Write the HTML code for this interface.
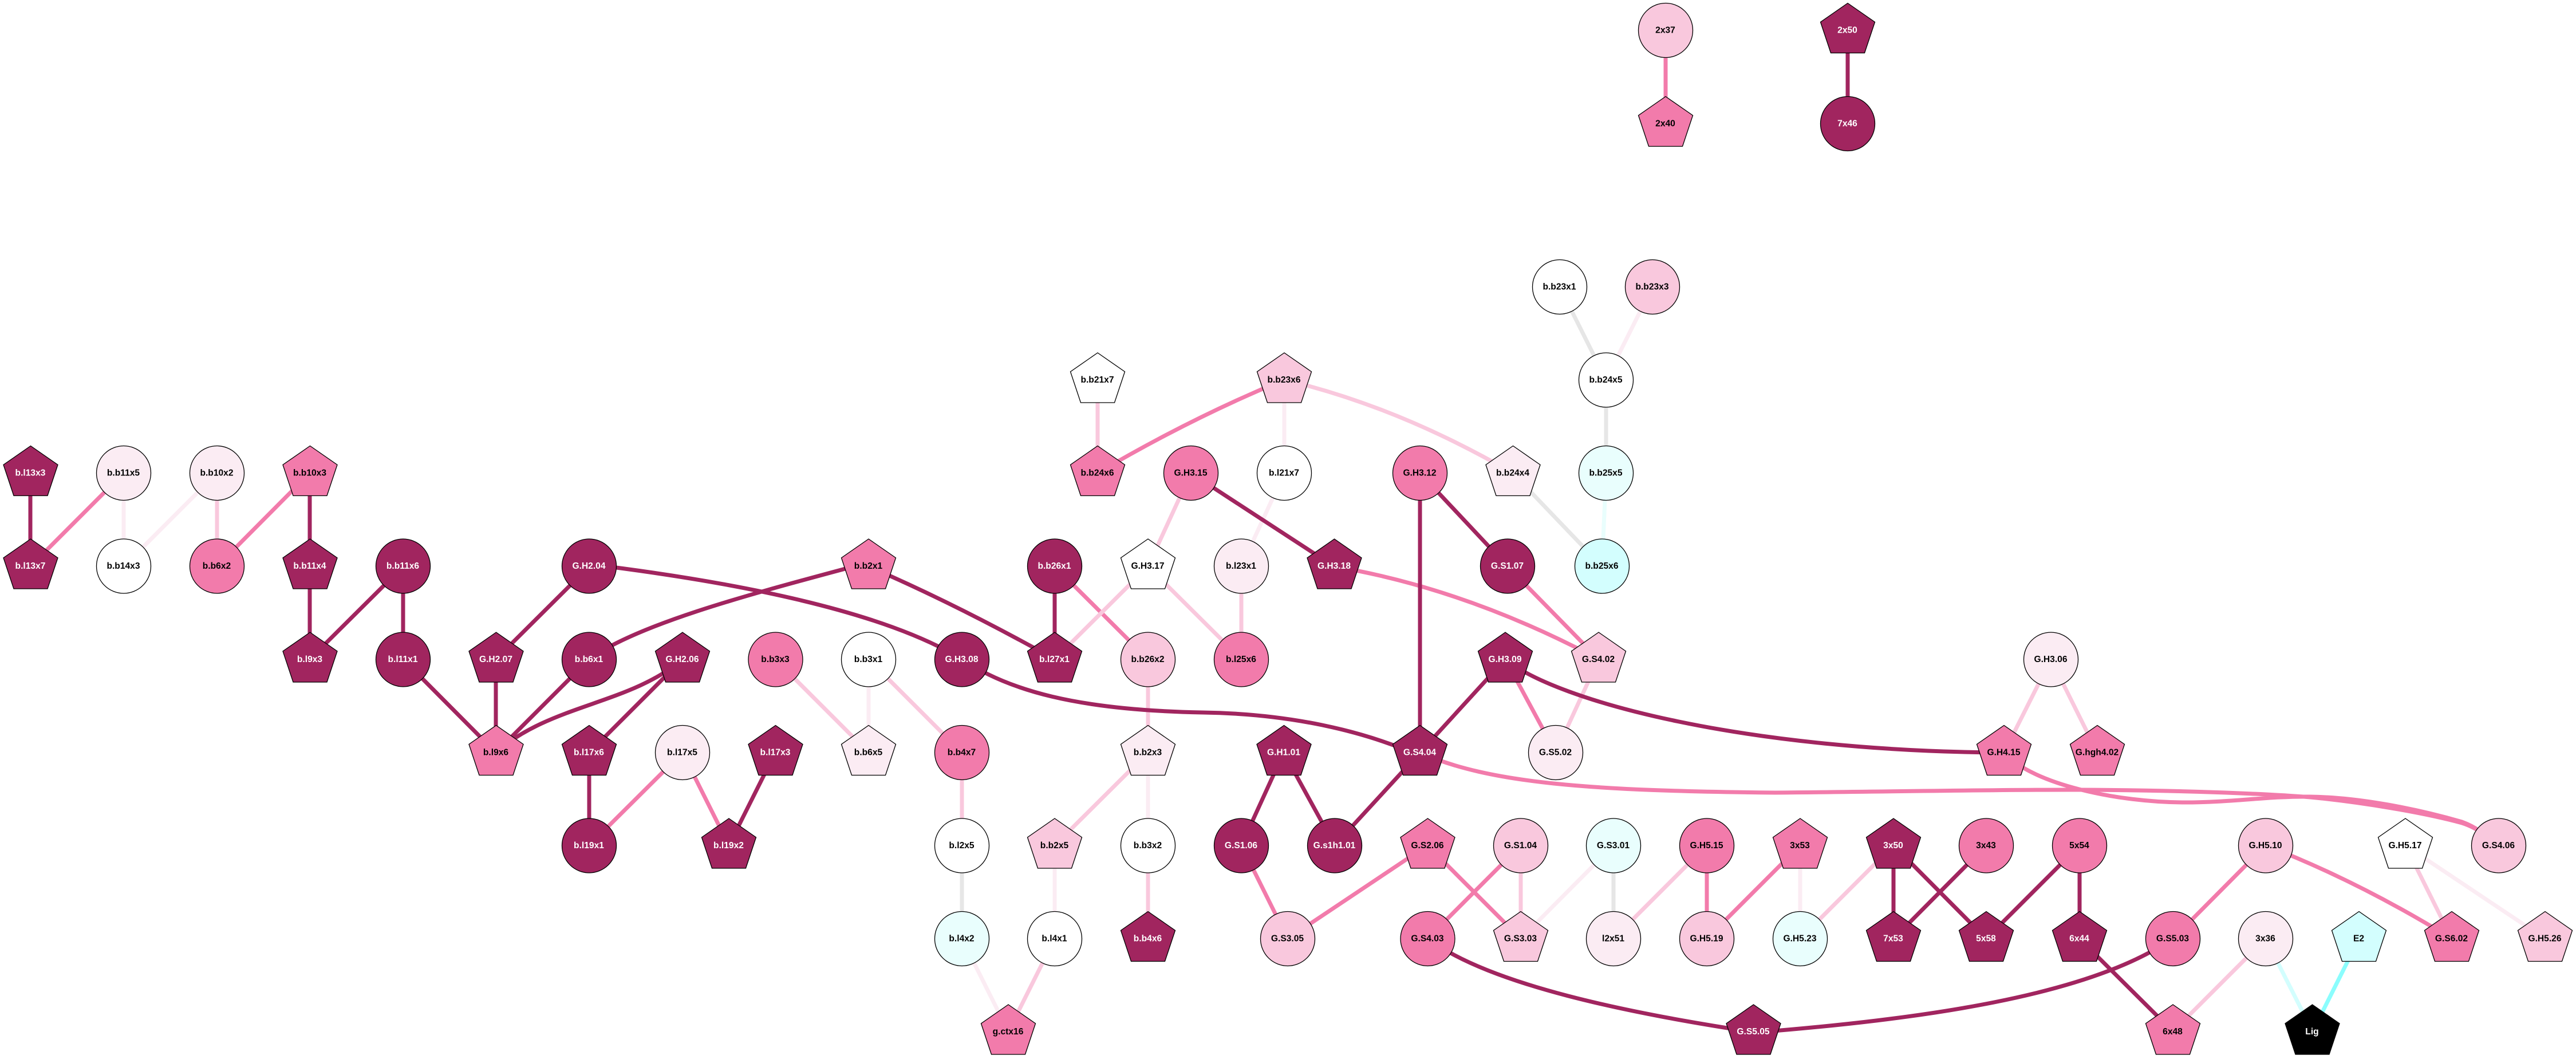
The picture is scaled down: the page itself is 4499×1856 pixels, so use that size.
<!DOCTYPE html>
<html><head><meta charset="utf-8"><style>
html,body{margin:0;padding:0;background:#fff}
svg{display:block}
text{font-family:"Liberation Sans",Arial,sans-serif;font-weight:bold;font-size:15.6px;text-anchor:middle;fill:#000}
text.w{fill:#fff}
.n circle,.n use{stroke:#000;stroke-width:1.3}
.e path{fill:none;stroke-width:7;stroke-linecap:butt}
.D{stroke:#a1255f}.P{stroke:#f27bab}.L{stroke:#f9c8dd}.V{stroke:#fbecf3}.G{stroke:#e6e6e6}.C1{stroke:#e9fefd}.C2{stroke:#d3fefe}.C3{stroke:#8bfdfd}
.fD{fill:#a1255f}.fP{fill:#f27bab}.fL{fill:#f9c8dd}.fV{fill:#fbecf3}.fW{fill:#fff}.fA{fill:#e9fefd}.fB{fill:#d3fefe}.fK{fill:#000}
</style></head><body>
<svg xmlns="http://www.w3.org/2000/svg" width="4499" height="1856" viewBox="0 0 4499 1856">
<defs><polygon id="p" points="0,-47.5 47.5,-14.5 29.5,39.5 -29.5,39.5 -47.5,-14.5"/></defs>
<rect width="4499" height="1856" fill="#fff"/>
<g class="e">
<path class="V" d="M2243,826L2168,989"/>
<path class="P" d="M2909,53L2909,216"/>
<path class="D" d="M3227,53L3227,216"/>
<path class="D" d="M53,826L53,989"/>
<path class="P" d="M216,826L53,989"/>
<path class="V" d="M216,826L216,989"/>
<path class="V" d="M379,826L216,989"/>
<path class="L" d="M379,826L379,989"/>
<path class="P" d="M541,826L379,989"/>
<path class="D" d="M541,826L541,989"/>
<path class="D" d="M541,989L541,1151"/>
<path class="D" d="M704,989L541,1151"/>
<path class="D" d="M704,989L704,1151"/>
<path class="D" d="M704,1151L866,1314"/>
<path class="D" d="M1029,989L866,1151"/>
<path class="D" d="M866,1151L866,1314"/>
<path class="D" d="M1029,1151L866,1314"/>
<path class="D" d="M1192,1151C1100,1230 960,1230 866,1314"/>
<path class="D" d="M1192,1151L1029,1314"/>
<path class="D" d="M1029,1314L1029,1476"/>
<path class="P" d="M1192,1314L1029,1476"/>
<path class="P" d="M1192,1314L1273,1476"/>
<path class="D" d="M1354,1314L1273,1476"/>
<path class="L" d="M1354,1151L1517,1314"/>
<path class="V" d="M1517,1151L1517,1314"/>
<path class="L" d="M1517,1151L1680,1314"/>
<path class="L" d="M1680,1314L1680,1476"/>
<path class="G" d="M1680,1476L1680,1639"/>
<path class="V" d="M1680,1639L1761,1801"/>
<path class="L" d="M1842,1639L1761,1801"/>
<path class="V" d="M1842,1476L1842,1639"/>
<path class="L" d="M2005,1314L1842,1476"/>
<path class="V" d="M2005,1314L2005,1476"/>
<path class="L" d="M2005,1476L2005,1639"/>
<path class="L" d="M2005,1151L2005,1314"/>
<path class="D" d="M1842,989L1842,1151"/>
<path class="P" d="M1842,989L2005,1151"/>
<path class="L" d="M2005,989L1842,1151"/>
<path class="L" d="M2005,989L2168,1151"/>
<path class="L" d="M2168,989L2168,1151"/>
<path class="D" d="M1517,989Q1670,1055 1842,1151"/>
<path class="D" d="M1029,1151C1120,1085 1340,1030 1517,982"/>
<path class="D" d="M1029,985C1250,1012 1530,1060 1680,1151"/>
<path class="D" d="M1680,1151C1760,1205 1880,1240 2100,1244C2250,1246 2380,1275 2480,1320"/>
<path class="L" d="M2080,826L2005,989"/>
<path class="D" d="M2080,826L2330,989"/>
<path class="V" d="M2243,663L2243,826"/>
<path class="P" d="M2243,663Q2080,730 1917,826"/>
<path class="L" d="M2243,663Q2442,710 2642,826"/>
<path class="L" d="M1917,663L1917,826"/>
<path class="P" d="M2330,989Q2561,1028 2792,1151"/>
<path class="D" d="M2480,826L2480,1314"/>
<path class="D" d="M2480,826L2633,989"/>
<path class="P" d="M2633,989L2792,1151"/>
<path class="G" d="M2642,826L2798,989"/>
<path class="C1" d="M2805,826L2798,989"/>
<path class="G" d="M2805,663L2805,826"/>
<path class="G" d="M2724,501L2805,663"/>
<path class="V" d="M2886,501L2805,663"/>
<path class="D" d="M2629,1151L2480,1314"/>
<path class="P" d="M2629,1151L2717,1314"/>
<path class="L" d="M2792,1151L2717,1314"/>
<path class="D" d="M2629,1151C2720,1225 3050,1312 3500,1314"/>
<path class="P" d="M3500,1314C3550,1370 3700,1401 3815,1401C3900,1401 3960,1390 4035,1391C4120,1392 4220,1412 4300,1435C4325,1444 4345,1460 4364,1476"/>
<path class="P" d="M2480,1314C2600,1368 2780,1381 3100,1384C3400,1381 3500,1378.5 3635,1379C3800,1380 3950,1385 4035,1392C4120,1400 4230,1418 4300,1437C4325,1445 4345,1460 4364,1476"/>
<path class="L" d="M3582,1151L3500,1314"/>
<path class="L" d="M3582,1151L3663,1314"/>
<path class="D" d="M2242,1314L2168,1476"/>
<path class="D" d="M2242,1314L2331,1476"/>
<path class="D" d="M2480,1314L2331,1476"/>
<path class="P" d="M2168,1476L2249,1639"/>
<path class="P" d="M2493,1476L2249,1639"/>
<path class="P" d="M2493,1476L2656,1639"/>
<path class="P" d="M2656,1476L2493,1639"/>
<path class="L" d="M2656,1476L2656,1639"/>
<path class="V" d="M2818,1476L2656,1639"/>
<path class="G" d="M2818,1476L2818,1639"/>
<path class="L" d="M2981,1476L2818,1639"/>
<path class="P" d="M2981,1476L2981,1639"/>
<path class="P" d="M3144,1476L2981,1639"/>
<path class="V" d="M3144,1476L3144,1639"/>
<path class="L" d="M3307,1476L3144,1639"/>
<path class="D" d="M3307,1476L3307,1639"/>
<path class="D" d="M3307,1476L3469,1639"/>
<path class="D" d="M3469,1476L3307,1639"/>
<path class="D" d="M3632,1476L3469,1639"/>
<path class="D" d="M3632,1476L3632,1639"/>
<path class="D" d="M3632,1639L3795,1801"/>
<path class="D" d="M3795,1638C3650,1740 3350,1780 3062,1803"/>
<path class="D" d="M2493,1638C2600,1720 2850,1770 3062,1802"/>
<path class="P" d="M3957,1476L3795,1639"/>
<path class="P" d="M3957,1476Q4120,1539 4282,1639"/>
<path class="L" d="M3957,1639L3795,1801"/>
<path class="C2" d="M3957,1639L4039,1801"/>
<path class="C3" d="M4120,1639L4039,1801"/>
<path class="L" d="M4201,1476L4282,1639"/>
<path class="V" d="M4201,1476L4445,1639"/>
</g>
<g class="n">
<circle cx="2909" cy="53" r="47.5" class="fL"/><text x="2908.5" y="57.5">2x37</text>
<use href="#p" x="2909" y="216" class="fP"/><text x="2908.5" y="220.5">2x40</text>
<use href="#p" x="3227" y="53" class="fD"/><text class="w" x="3226.5" y="57.5">2x50</text>
<circle cx="3227" cy="216" r="47.5" class="fD"/><text class="w" x="3226.5" y="220.5">7x46</text>

<circle cx="2724" cy="501" r="47.5" class="fW"/><text x="2723.5" y="505.5">b.b23x1</text>
<circle cx="2886" cy="501" r="47.5" class="fL"/><text x="2885.5" y="505.5">b.b23x3</text>

<use href="#p" x="1917" y="663.5" class="fW"/><text x="1916.5" y="668">b.b21x7</text>
<use href="#p" x="2243" y="663.5" class="fL"/><text x="2242.5" y="668">b.b23x6</text>
<circle cx="2805" cy="663.5" r="47.5" class="fW"/><text x="2804.5" y="668">b.b24x5</text>

<use href="#p" x="53.5" y="826" class="fD"/><text class="w" x="53" y="830.5">b.l13x3</text>
<circle cx="216" cy="826" r="47.5" class="fV"/><text x="215.5" y="830.5">b.b11x5</text>
<circle cx="379" cy="826" r="47.5" class="fV"/><text x="378.5" y="830.5">b.b10x2</text>
<use href="#p" x="541.5" y="826" class="fP"/><text x="541" y="830.5">b.b10x3</text>
<use href="#p" x="1917" y="826" class="fP"/><text x="1916.5" y="830.5">b.b24x6</text>
<circle cx="2080" cy="826" r="47.5" class="fP"/><text x="2079.5" y="830.5">G.H3.15</text>
<circle cx="2243" cy="826" r="47.5" class="fW"/><text x="2242.5" y="830.5">b.l21x7</text>
<circle cx="2480" cy="826" r="47.5" class="fP"/><text x="2479.5" y="830.5">G.H3.12</text>
<use href="#p" x="2642.5" y="826" class="fV"/><text x="2642" y="830.5">b.b24x4</text>
<circle cx="2805" cy="826" r="47.5" class="fA"/><text x="2804.5" y="830.5">b.b25x5</text>

<use href="#p" x="53.5" y="988.5" class="fD"/><text class="w" x="53" y="993">b.l13x7</text>
<circle cx="216" cy="988.5" r="47.5" class="fW"/><text x="215.5" y="993">b.b14x3</text>
<circle cx="379" cy="988.5" r="47.5" class="fP"/><text x="378.5" y="993">b.b6x2</text>
<use href="#p" x="541.5" y="988.5" class="fD"/><text class="w" x="541" y="993">b.b11x4</text>
<circle cx="704" cy="988.5" r="47.5" class="fD"/><text class="w" x="703.5" y="993">b.b11x6</text>
<circle cx="1029" cy="988.5" r="47.5" class="fD"/><text class="w" x="1028.5" y="993">G.H2.04</text>
<use href="#p" x="1517" y="988.5" class="fP"/><text x="1516.5" y="993">b.b2x1</text>
<circle cx="1842" cy="988.5" r="47.5" class="fD"/><text class="w" x="1841.5" y="993">b.b26x1</text>
<use href="#p" x="2005" y="988.5" class="fW"/><text x="2004.5" y="993">G.H3.17</text>
<circle cx="2168" cy="988.5" r="47.5" class="fV"/><text x="2167.5" y="993">b.l23x1</text>
<use href="#p" x="2330.5" y="988.5" class="fD"/><text class="w" x="2330" y="993">G.H3.18</text>
<circle cx="2633" cy="988.5" r="47.5" class="fD"/><text class="w" x="2632.5" y="993">G.S1.07</text>
<circle cx="2798" cy="988.5" r="47.5" class="fB"/><text x="2797.5" y="993">b.b25x6</text>

<use href="#p" x="541.5" y="1151.5" class="fD"/><text class="w" x="541" y="1156">b.l9x3</text>
<circle cx="704" cy="1151.5" r="47.5" class="fD"/><text class="w" x="703.5" y="1156">b.l11x1</text>
<use href="#p" x="866.5" y="1151.5" class="fD"/><text class="w" x="866" y="1156">G.H2.07</text>
<circle cx="1029" cy="1151.5" r="47.5" class="fD"/><text class="w" x="1028.5" y="1156">b.b6x1</text>
<use href="#p" x="1192" y="1151.5" class="fD"/><text class="w" x="1191.5" y="1156">G.H2.06</text>
<circle cx="1354.5" cy="1151.5" r="47.5" class="fP"/><text x="1354" y="1156">b.b3x3</text>
<circle cx="1517" cy="1151.5" r="47.5" class="fW"/><text x="1516.5" y="1156">b.b3x1</text>
<circle cx="1680" cy="1151.5" r="47.5" class="fD"/><text class="w" x="1679.5" y="1156">G.H3.08</text>
<use href="#p" x="1842" y="1151.5" class="fD"/><text class="w" x="1841.5" y="1156">b.l27x1</text>
<circle cx="2005" cy="1151.5" r="47.5" class="fL"/><text x="2004.5" y="1156">b.b26x2</text>
<circle cx="2168" cy="1151.5" r="47.5" class="fP"/><text x="2167.5" y="1156">b.l25x6</text>
<use href="#p" x="2629" y="1151.5" class="fD"/><text class="w" x="2628.5" y="1156">G.H3.09</text>
<use href="#p" x="2792" y="1151.5" class="fL"/><text x="2791.5" y="1156">G.S4.02</text>
<circle cx="3582" cy="1151.5" r="47.5" class="fV"/><text x="3581.5" y="1156">G.H3.06</text>

<use href="#p" x="866.5" y="1314" class="fP"/><text x="866" y="1318.5">b.l9x6</text>
<use href="#p" x="1029" y="1314" class="fD"/><text class="w" x="1028.5" y="1318.5">b.l17x6</text>
<circle cx="1192" cy="1314" r="47.5" class="fV"/><text x="1191.5" y="1318.5">b.l17x5</text>
<use href="#p" x="1354.5" y="1314" class="fD"/><text class="w" x="1354" y="1318.5">b.l17x3</text>
<use href="#p" x="1517" y="1314" class="fV"/><text x="1516.5" y="1318.5">b.b6x5</text>
<circle cx="1680" cy="1314" r="47.5" class="fP"/><text x="1679.5" y="1318.5">b.b4x7</text>
<use href="#p" x="2005" y="1314" class="fV"/><text x="2004.5" y="1318.5">b.b2x3</text>
<use href="#p" x="2242.5" y="1314" class="fD"/><text class="w" x="2242" y="1318.5">G.H1.01</text>
<use href="#p" x="2480" y="1314" class="fD"/><text class="w" x="2479.5" y="1318.5">G.S4.04</text>
<circle cx="2717" cy="1314" r="47.5" class="fV"/><text x="2716.5" y="1318.5">G.S5.02</text>
<use href="#p" x="3500" y="1314" class="fP"/><text x="3499.5" y="1318.5">G.H4.15</text>
<use href="#p" x="3663" y="1314" class="fP"/><text x="3662.5" y="1318.5">G.hgh4.02</text>

<circle cx="1029" cy="1476.5" r="47.5" class="fD"/><text class="w" x="1028.5" y="1481">b.l19x1</text>
<use href="#p" x="1273" y="1476.5" class="fD"/><text class="w" x="1272.5" y="1481">b.l19x2</text>
<circle cx="1680" cy="1476.5" r="47.5" class="fW"/><text x="1679.5" y="1481">b.l2x5</text>
<use href="#p" x="1842" y="1476.5" class="fL"/><text x="1841.5" y="1481">b.b2x5</text>
<circle cx="2005" cy="1476.5" r="47.5" class="fW"/><text x="2004.5" y="1481">b.b3x2</text>
<circle cx="2168" cy="1476.5" r="47.5" class="fD"/><text class="w" x="2167.5" y="1481">G.S1.06</text>
<circle cx="2331" cy="1476.5" r="47.5" class="fD"/><text class="w" x="2330.5" y="1481">G.s1h1.01</text>
<use href="#p" x="2493.5" y="1476.5" class="fP"/><text x="2493" y="1481">G.S2.06</text>
<circle cx="2656" cy="1476.5" r="47.5" class="fL"/><text x="2655.5" y="1481">G.S1.04</text>
<circle cx="2818" cy="1476.5" r="47.5" class="fA"/><text x="2817.5" y="1481">G.S3.01</text>
<circle cx="2981" cy="1476.5" r="47.5" class="fP"/><text x="2980.5" y="1481">G.H5.15</text>
<use href="#p" x="3144" y="1476.5" class="fP"/><text x="3143.5" y="1481">3x53</text>
<use href="#p" x="3307" y="1476.5" class="fD"/><text class="w" x="3306.5" y="1481">3x50</text>
<circle cx="3469" cy="1476.5" r="47.5" class="fP"/><text x="3468.5" y="1481">3x43</text>
<circle cx="3632" cy="1476.5" r="47.5" class="fP"/><text x="3631.5" y="1481">5x54</text>
<circle cx="3957" cy="1476.5" r="47.5" class="fL"/><text x="3956.5" y="1481">G.H5.10</text>
<use href="#p" x="4201" y="1476.5" class="fW"/><text x="4200.5" y="1481">G.H5.17</text>
<circle cx="4364" cy="1476.5" r="47.5" class="fL"/><text x="4363.5" y="1481">G.S4.06</text>

<circle cx="1680" cy="1639" r="47.5" class="fA"/><text x="1679.5" y="1643.5">b.l4x2</text>
<circle cx="1842" cy="1639" r="47.5" class="fW"/><text x="1841.5" y="1643.5">b.l4x1</text>
<use href="#p" x="2005" y="1639" class="fD"/><text class="w" x="2004.5" y="1643.5">b.b4x6</text>
<circle cx="2249" cy="1639" r="47.5" class="fL"/><text x="2248.5" y="1643.5">G.S3.05</text>
<circle cx="2493.5" cy="1639" r="47.5" class="fP"/><text x="2493" y="1643.5">G.S4.03</text>
<use href="#p" x="2656" y="1639" class="fL"/><text x="2655.5" y="1643.5">G.S3.03</text>
<circle cx="2818" cy="1639" r="47.5" class="fV"/><text x="2817.5" y="1643.5">l2x51</text>
<circle cx="2981" cy="1639" r="47.5" class="fL"/><text x="2980.5" y="1643.5">G.H5.19</text>
<circle cx="3144" cy="1639" r="47.5" class="fA"/><text x="3143.5" y="1643.5">G.H5.23</text>
<use href="#p" x="3307" y="1639" class="fD"/><text class="w" x="3306.5" y="1643.5">7x53</text>
<use href="#p" x="3469" y="1639" class="fD"/><text class="w" x="3468.5" y="1643.5">5x58</text>
<use href="#p" x="3632" y="1639" class="fD"/><text class="w" x="3631.5" y="1643.5">6x44</text>
<circle cx="3795" cy="1639" r="47.5" class="fP"/><text x="3794.5" y="1643.5">G.S5.03</text>
<circle cx="3957" cy="1639" r="47.5" class="fV"/><text x="3956.5" y="1643.5">3x36</text>
<use href="#p" x="4120" y="1639" class="fB"/><text x="4119.5" y="1643.5">E2</text>
<use href="#p" x="4282" y="1639" class="fP"/><text x="4281.5" y="1643.5">G.S6.02</text>
<use href="#p" x="4445" y="1639" class="fL"/><text x="4444.5" y="1643.5">G.H5.26</text>

<use href="#p" x="1761" y="1801.5" class="fP"/><text x="1760.5" y="1806">g.ctx16</text>
<use href="#p" x="3062.5" y="1801.5" class="fD"/><text class="w" x="3062" y="1806">G.S5.05</text>
<use href="#p" x="3795" y="1801.5" class="fP"/><text x="3794.5" y="1806">6x48</text>
<use href="#p" x="4038.5" y="1801.5" class="fK"/><text class="w" x="4038" y="1806">Lig</text>
</g>
</svg>
</body></html>
